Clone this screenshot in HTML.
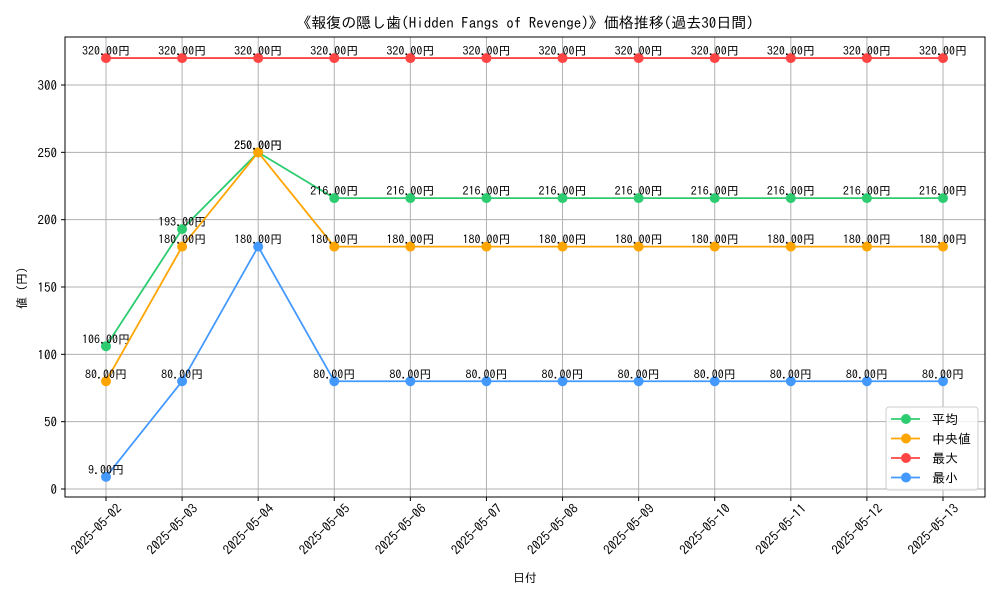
<!DOCTYPE html>
<html><head><meta charset="utf-8"><style>
body{margin:0;background:#fff}
svg{display:block;font-family:"IPAGothic","Liberation Sans","Noto Sans CJK JP",sans-serif}
</style></head><body>
<svg id="chart" width="1000" height="600">
<rect x="0" y="0" width="1000" height="600" fill="#fff"/>
<text x="525" y="28" font-size="15" text-anchor="middle">《報復の隠し歯(Hidden Fangs of Revenge)》価格推移(過去30日間)</text>
<g id="grid"></g>
<g id="axes"></g>
<g id="series"></g>
<rect x="65" y="37" width="920" height="460" fill="none" stroke="#000" stroke-width="1"/>
<text x="525" y="582" font-size="12" text-anchor="middle">日付</text>
<text x="26" y="288" font-size="12" text-anchor="middle" transform="rotate(-90 26 288)">値 (円)</text>
<g id="legend"></g>
</svg>
<script>
const categories=["2025-05-02","2025-05-03","2025-05-04","2025-05-05","2025-05-06","2025-05-07","2025-05-08","2025-05-09","2025-05-10","2025-05-11","2025-05-12","2025-05-13"];
const avgValues=[106,193,250,216,216,216,216,216,216,216,216,216];
const medianValues=[80,180,250,180,180,180,180,180,180,180,180,180];
const maxValues=[320,320,320,320,320,320,320,320,320,320,320,320];
const minValues=[9,80,180,80,80,80,80,80,80,80,80,80];
const yTicks=[0,50,100,150,200,250,300];
const seriesNames=["平均","中央値","最大","最小"];

const NS="http://www.w3.org/2000/svg";
function xS(i){return 106+i*(943-106)/(categories.length-1);}
function yS(v){return 489-v*(489-85)/300;}
function mk(tag,attrs,parent){const e=document.createElementNS(NS,tag);for(const k in attrs)e.setAttribute(k,attrs[k]);parent.appendChild(e);return e;}
const grid=document.getElementById('grid'),axes=document.getElementById('axes'),ser=document.getElementById('series'),leg=document.getElementById('legend');
yTicks.forEach(t=>{const y=yS(t);
 const l=mk('line',{x1:65,x2:985,y1:y,y2:y,stroke:'#b0b0b0','stroke-width':1},grid);
 
 
 mk('line',{x1:61,x2:65,y1:y,y2:y,stroke:'#000'},axes);
 const tx=mk('text',{x:57,y:y+5,'font-size':13,'text-anchor':'end'},axes);tx.textContent=t;
 
 
});
categories.forEach((c,i)=>{const x=xS(i);
 const l=mk('line',{x1:x,x2:x,y1:37,y2:497,stroke:'#b0b0b0','stroke-width':1},grid);
 
 
 mk('line',{x1:x,x2:x,y1:497,y2:501,stroke:'#000'},axes);
 const tx=mk('text',{x:x+10,y:503,'font-size':13,'text-anchor':'end',transform:`rotate(-45 ${x+10} 503)`,dy:'0.7em'},axes);tx.textContent=c;
 
 
});
const allSeries=[[avgValues,'#2ecc71','avg'],[medianValues,'#ffa500','median'],[maxValues,'#ff4444','max'],[minValues,'#4499ff','min']];
allSeries.forEach(([vals,col,nm])=>{
 const g=mk('g',{},ser);
 
 
 const p=mk('polyline',{points:vals.map((v,i)=>xS(i)+','+yS(v)).join(' '),fill:'none',stroke:col,'stroke-width':1.8},g);
 
 
 vals.forEach((v,i)=>{
  const c=mk('circle',{cx:xS(i),cy:yS(v),r:5,fill:col},g);
  
  
  const t=mk('text',{x:xS(i),y:yS(v)-3,'font-size':12,'text-anchor':'middle'},g);t.textContent=v.toFixed(2)+'円';
  
  
 });
});
mk('rect',{x:886,y:407,width:92,height:83,rx:3,fill:'#fff','fill-opacity':0.8,stroke:'#ccc'},leg);
allSeries.forEach(([vals,col,nm],k)=>{const y=419+k*19.5;
 const e=mk('g',{},leg);
 
 
 mk('line',{x1:891,x2:920,y1:y,y2:y,stroke:col,'stroke-width':1.8},e);
 mk('circle',{cx:906,cy:y,r:5,fill:col},e);
 const t=mk('text',{x:932,y:y+5,'font-size':13},e);t.textContent=seriesNames[k];
});
</script>
</body></html>
